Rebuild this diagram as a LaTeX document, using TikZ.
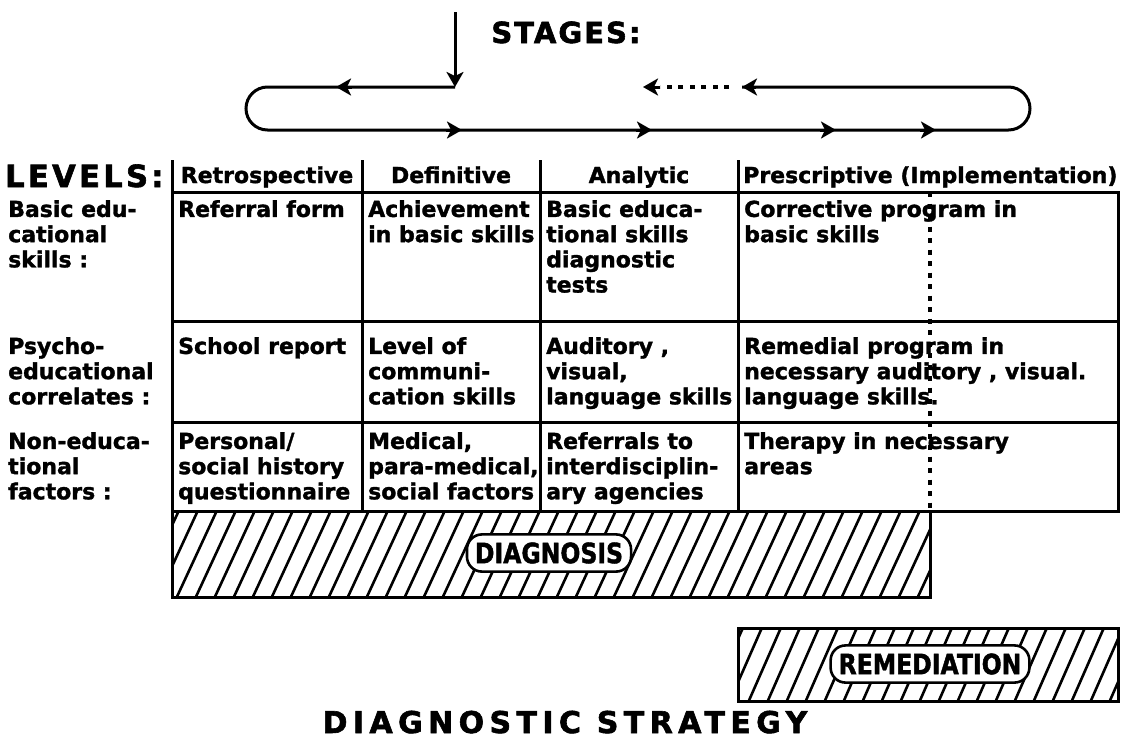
\documentclass[tikz,border=0pt]{standalone}
\usepackage{fontspec}
\setmainfont{DejaVu Sans}[BoldFeatures={FakeBold=1.5}]
\newfontfamily\titlefont{DejaVu Sans}[LetterSpace=18, BoldFeatures={FakeBold=2}]
\newfontfamily\stagefont{DejaVu Sans}[LetterSpace=7, BoldFeatures={FakeBold=2}]
\newfontfamily\levelfont{DejaVu Sans}[LetterSpace=11, BoldFeatures={FakeBold=2}]
\newfontfamily\pillfamily{DejaVu Sans}[FakeStretch=0.84, BoldFeatures={FakeBold=1.5}]
\usetikzlibrary{arrows.meta}

\newcommand\cellfont{\fontsize{22}{25.2}\selectfont\bfseries}
\newcommand\pillfont{\pillfamily\fontsize{28}{30}\selectfont\bfseries}

% table geometry (y grows downwards)
\def\xL{172}\def\xA{362}\def\xB{540}\def\xC{738}\def\xD{930}\def\xR{1118}
\def\yH{160}\def\yT{192}\def\yA{321}\def\yB{422}\def\yC{511}
\def\yDb{597}\def\yRt{628}\def\yRb{701}

\tikzset{
  rule/.style={line width=3pt},
  hatch/.style={line width=2.6pt},
  tip/.style={-{Stealth[length=15pt,width=17pt,inset=4pt]}},
  cell/.style={anchor=north west, inner sep=0pt, align=left, font=\cellfont},
  hdr/.style={anchor=base, inner sep=0pt, font=\cellfont},
  pill/.style={draw, line width=2.6pt, fill=white, rounded corners=15pt,
    inner xsep=8pt, inner ysep=8pt, font=\pillfont},
  dotline/.style={line width=3.2pt, dash pattern=on 5pt off 6.5pt},
}

\begin{document}
\begin{tikzpicture}[x=1pt,y=-1pt]
\path[use as bounding box, fill=white] (0,0) rectangle (1126,755);

% ---- stage cycle ----
\node[font=\stagefont\fontsize{29}{32}\selectfont\bfseries, anchor=base] (stages) at (566,43) {STAGES:};
\coordinate (entry) at (455,12);
\coordinate (join) at (455,87);
\coordinate (dotend) at (742,87);
\draw[rule, tip] (entry) -- (join);
\draw[rule, rounded corners=21.5pt] (join) -- (246,87) -- (246,130) -- (1030,130) -- (1030,87) -- (dotend);
\draw[rule, tip] (dotend) ++(14,0) -- (dotend);
\draw[dotline] (729,87) -- (660,87);
\draw[rule, tip] (660,87) -- (643,87);
\draw[rule, tip] (352,87) -- (336,87);
\foreach \x in {462,652,836,936}
  \draw[rule, tip] (\x-16,130) -- (\x,130);

% ---- levels table ----
\node[font=\levelfont\fontsize{30.5}{34}\selectfont\bfseries, anchor=base west, inner sep=0pt] (levels) at (5,187) {LEVELS:};

\draw[rule] (\xL,\yT) -- (\xR,\yT) -- (\xR,\yC) -- (\xL,\yC);
\draw[rule] (\xL,\yA) -- (\xR,\yA);
\draw[rule] (\xL,\yB) -- (\xR,\yB);
\foreach \x in {\xL,\xA,\xB,\xC}
  \draw[rule] (\x,\yH) -- (\x,\yC);
\draw[dotline] (\xD,\yT) -- (\xD,\yC);

% column headers
\node[hdr] (h1) at ({(\xL+\xA)/2},183) {Retrospective};
\node[hdr] (h2) at ({(\xA+\xB)/2},183) {Definitive};
\node[hdr] (h3) at ({(\xB+\xC)/2},183) {Analytic};
\node[hdr, anchor=base west] (h4) at (\xC+5,183) {Prescriptive (Implementation)};

% row labels
\node[cell] (r1) at (8,\yT+8) {Basic edu-\\cational\\skills :};
\node[cell] (r2) at (8,\yA+16) {Psycho-\\educational\\correlates :};
\node[cell] (r3) at (8,\yB+10) {Non-educa-\\tional\\factors :};

% row 1
\node[cell] (c11) at (\xL+6,\yT+8) {Referral form};
\node[cell] (c12) at (\xA+6,\yT+8) {Achievement\\in basic skills};
\node[cell] (c13) at (\xB+6,\yT+8) {Basic educa-\\tional skills\\diagnostic\\tests};
\node[cell] (c14) at (\xC+6,\yT+8) {Corrective program in\\basic skills};
% row 2
\node[cell] (c21) at (\xL+6,\yA+16) {School report};
\node[cell] (c22) at (\xA+6,\yA+16) {Level of\\communi-\\cation skills};
\node[cell] (c23) at (\xB+6,\yA+16) {Auditory ,\\visual,\\language skills};
\node[cell] (c24) at (\xC+6,\yA+16) {Remedial program in\\necessary auditory , visual.\\language skills.};
% row 3
\node[cell] (c31) at (\xL+6,\yB+10) {Personal/\\social history\\questionnaire};
\node[cell] (c32) at (\xA+6,\yB+10) {Medical,\\para-medical,\\social factors};
\node[cell] (c33) at (\xB+6,\yB+10) {Referrals to\\interdisciplin-\\ary agencies};
\node[cell] (c34) at (\xC+6,\yB+10) {Therapy in necessary\\areas};

% ---- hatched phase bars ----
\begin{scope}
  \clip (\xL,\yC) rectangle (\xD,\yDb);
  \foreach \x in {118,137,...,950}
    \draw[hatch] (\x,\yDb+4) -- ++(44,-95);
\end{scope}
\draw[rule] (\xL,\yC) rectangle (\xD,\yDb);
\node[pill] (diag) at (549,553) {DIAGNOSIS};

\begin{scope}
  \clip (\xC,\yRt) rectangle (\xR,\yRb);
  \foreach \x in {690,709,...,1140}
    \draw[hatch] (\x,\yRb+4) -- ++(36,-82);
\end{scope}
\draw[rule] (\xC,\yRt) rectangle (\xR,\yRb);
\node[pill] (rem) at (930,664) {REMEDIATION};

% ---- title ----
\node[font=\titlefont\fontsize{30}{34}\selectfont\bfseries, anchor=base] (title) at (565,733) {DIAGNOSTIC STRATEGY};
\end{tikzpicture}
\end{document}
